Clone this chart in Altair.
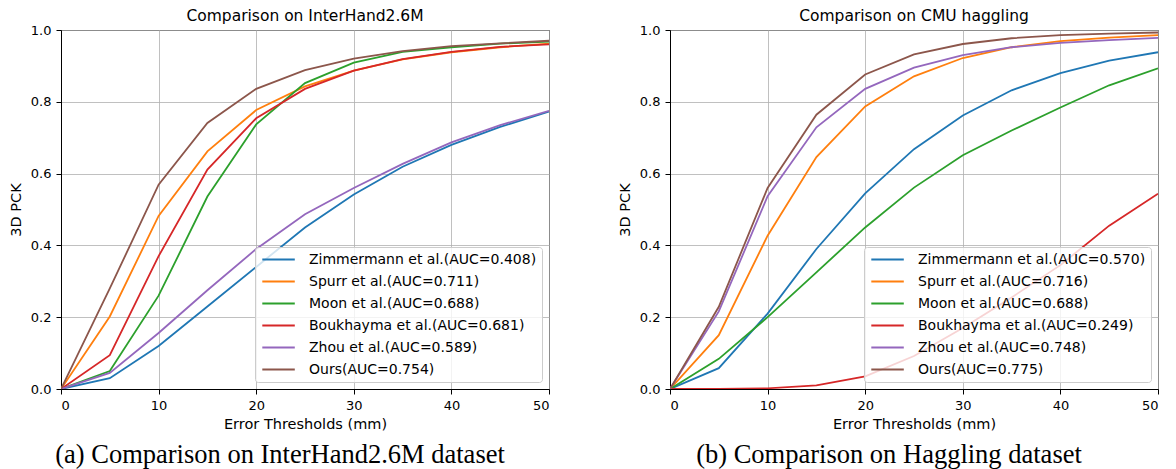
import altair as alt
import pandas as pd

# Error thresholds (mm)
x_thresholds = [0, 5, 10, 15, 20, 25, 30, 35, 40, 45, 50]

methods = ["Zimmermann et al.", "Spurr et al.", "Moon et al.",
           "Boukhayma et al.", "Zhou et al.", "Ours"]
colors = ["#1f77b4", "#ff7f0e", "#2ca02c", "#d62728", "#9467bd", "#8c564b"]

# InterHand2.6M
auc_ih = ["0.408", "0.711", "0.688", "0.681", "0.589", "0.754"]
zimm_ih = [0, 0.030, 0.120, 0.230, 0.340, 0.450, 0.542, 0.619, 0.680, 0.730, 0.773]
spurr_ih = [0, 0.202, 0.482, 0.662, 0.777, 0.843, 0.887, 0.918, 0.938, 0.952, 0.962]
moon_ih = [0, 0.050, 0.260, 0.536, 0.737, 0.852, 0.909, 0.939, 0.952, 0.962, 0.968]
bouk_ih = [0, 0.094, 0.370, 0.611, 0.754, 0.836, 0.887, 0.919, 0.939, 0.953, 0.960]
zhou_ih = [0, 0.045, 0.156, 0.275, 0.390, 0.487, 0.560, 0.627, 0.687, 0.735, 0.775]
ours_ih = [0, 0.280, 0.569, 0.741, 0.836, 0.888, 0.920, 0.941, 0.955, 0.963, 0.970]

# CMU haggling
auc_hg = ["0.570", "0.716", "0.688", "0.249", "0.748", "0.775"]
zimm_hg = [0, 0.058, 0.210, 0.390, 0.545, 0.668, 0.762, 0.832, 0.880, 0.915, 0.938]
spurr_hg = [0, 0.150, 0.427, 0.646, 0.787, 0.871, 0.922, 0.952, 0.969, 0.979, 0.986]
moon_hg = [0, 0.084, 0.200, 0.325, 0.450, 0.561, 0.651, 0.720, 0.784, 0.846, 0.893]
bouk_hg = [0, 0.000, 0.002, 0.010, 0.035, 0.092, 0.170, 0.255, 0.345, 0.455, 0.544]
zhou_hg = [0, 0.216, 0.537, 0.729, 0.836, 0.895, 0.930, 0.952, 0.964, 0.972, 0.978]
ours_hg = [0, 0.229, 0.560, 0.764, 0.876, 0.932, 0.961, 0.977, 0.986, 0.990, 0.993]

W = 488
H = 359


def panel(series, aucs, title, caption):
    labels = [f"{m}(AUC={a})" for m, a in zip(methods, aucs)]
    rows = []
    for lab, vals in zip(labels, series):
        for xv, yv in zip(x_thresholds, vals):
            rows.append({"x": xv, "y": yv, "method": lab})
    df = pd.DataFrame(rows)
    lines = alt.Chart(df).mark_line(strokeWidth=1.8, clip=True).encode(
        x=alt.X("x:Q", scale=alt.Scale(domain=[0, 50], nice=False),
                axis=alt.Axis(values=[0, 10, 20, 30, 40, 50], format="d",
                              title="Error Thresholds (mm)", titlePadding=5)),
        y=alt.Y("y:Q", scale=alt.Scale(domain=[0, 1], nice=False),
                axis=alt.Axis(values=[0, 0.2, 0.4, 0.6, 0.8, 1.0], format=".1f",
                              title="3D PCK", titlePadding=6.5)),
        color=alt.Color("method:N", sort=labels,
                        scale=alt.Scale(domain=labels, range=colors),
                        legend=alt.Legend(title=None, orient="bottom-right", offset=7,
                                          padding=5, fillColor="rgba(255,255,255,0.8)",
                                          strokeColor="#cccccc", cornerRadius=3,
                                          labelFont="DejaVu Sans", labelFontSize=14,
                                          labelColor="black", labelLimit=400,
                                          symbolType="M-0.8,0H4.2", symbolSize=169,
                                          symbolStrokeWidth=2, labelOffset=34,
                                          rowPadding=7)),
    )
    cap = alt.Chart(pd.DataFrame({"c": [caption]})).mark_text(
        font="Liberation Serif", fontSize=26.5, baseline="alphabetic",
        align="center", color="black"
    ).encode(text="c:N", x=alt.value(W / 2 - 25), y=alt.value(433))
    return alt.layer(lines, cap).properties(
        width=W, height=H,
        title=alt.TitleParams(title, font="DejaVu Sans", fontSize=15.5,
                              fontWeight="normal", color="black", anchor="middle",
                              frame="group", offset=0),
    )


p1 = panel([zimm_ih, spurr_ih, moon_ih, bouk_ih, zhou_ih, ours_ih], auc_ih,
           "Comparison on InterHand2.6M", "(a) Comparison on InterHand2.6M dataset")
p2 = panel([zimm_hg, spurr_hg, moon_hg, bouk_hg, zhou_hg, ours_hg], auc_hg,
           "Comparison on CMU haggling", "(b) Comparison on Haggling dataset")

chart = alt.hconcat(p1, p2, spacing=67,
                    padding={"left": 0, "top": 0, "right": 0, "bottom": 0}
                    ).resolve_scale(color="independent").configure_view(
    stroke="black", strokeWidth=1
).configure_axis(
    domainColor="black", tickColor="black", tickSize=5, labelPadding=5,
    labelFont="DejaVu Sans", labelFontSize=13, labelColor="black",
    titleFont="DejaVu Sans", titleFontSize=14.5, titleFontWeight="normal",
    titleColor="black", gridColor="#b0b0b0", gridWidth=0.8
)

chart.save("out.html", embed_options={"renderer": "svg", "actions": False})
